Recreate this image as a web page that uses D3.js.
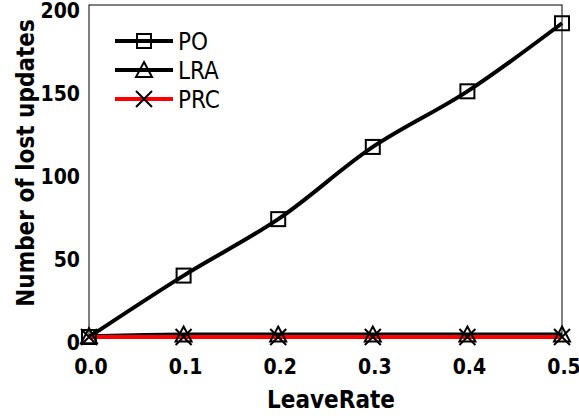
<!DOCTYPE html>
<html>
<head>
<meta charset="utf-8">
<script src="https://cdn.jsdelivr.net/npm/d3@7"></script>
<style>
  body { margin: 0; background: #fff; }
  svg { display: block; }
</style>
</head>
<body>
<div id="canvas"></div>
<script>
// data
const leaveRates = [0.0, 0.1, 0.2, 0.3, 0.4, 0.5];
const poValues = [0, 37, 71, 114.5, 148, 189];
const lraValues = [0.5, 1.5, 1.5, 1.5, 1.5, 1.5];
const prcValues = [0, 0, 0, 0, 0, 0];
const yTicks = [0, 50, 100, 150, 200];
const xTicks = [0.0, 0.1, 0.2, 0.3, 0.4, 0.5];

const series = [
  { name: "PO", values: poValues, color: "#000", marker: "square" },
  { name: "LRA", values: lraValues, color: "#000", marker: "triangle" },
  { name: "PRC", values: prcValues, color: "#f00", marker: "cross" }
];

const W = 579, H = 419;
const font = "'DejaVu Sans Condensed', 'DejaVu Sans', sans-serif";

const svg = d3.select("#canvas").append("svg")
  .attr("width", W).attr("height", H);

const x = d3.scaleLinear().domain([0, 0.5]).range([89, 562]);
const y = d3.scaleLinear().domain([0, 200]).range([337, 5]);

// frame
svg.append("rect")
  .attr("x", x(0)).attr("y", y(200))
  .attr("width", x(0.5) - x(0)).attr("height", y(0) - y(200))
  .attr("fill", "none").attr("stroke", "#000").attr("stroke-width", 1);

// tick labels
svg.append("g").selectAll("text")
  .data(yTicks).join("text")
  .attr("x", 80).attr("y", (d) => y(d) + 6)
  .attr("text-anchor", "end").attr("dominant-baseline", "central")
  .style("font-family", font).style("font-size", "21px").style("font-weight", "bold")
  .text((d) => d);

svg.append("g").selectAll("text")
  .data(xTicks).join("text")
  .attr("x", (d) => x(d) + 2).attr("y", 367)
  .attr("text-anchor", "middle").attr("dominant-baseline", "central")
  .style("font-family", font).style("font-size", "21px").style("font-weight", "bold")
  .text((d) => d.toFixed(1));

// axis titles
svg.append("text")
  .attr("x", 331).attr("y", 400)
  .attr("text-anchor", "middle").attr("dominant-baseline", "central")
  .style("font-family", font).style("font-size", "24px").style("font-weight", "bold")
  .text("LeaveRate");

svg.append("text")
  .attr("transform", "translate(26,163) rotate(-90)")
  .attr("text-anchor", "middle").attr("dominant-baseline", "central")
  .style("font-family", font).style("font-size", "24px").style("font-weight", "bold")
  .text("Number of lost updates");

function drawMarker(g, type, cx, cy) {
  if (type === "square") {
    g.append("rect")
      .attr("x", cx - 7).attr("y", cy - 7).attr("width", 14).attr("height", 14)
      .attr("fill", "none").attr("stroke", "#000").attr("stroke-width", 2);
  } else if (type === "triangle") {
    g.append("path")
      .attr("d", `M${cx},${cy - 8}L${cx + 8},${cy + 7}L${cx - 8},${cy + 7}Z`)
      .attr("fill", "none").attr("stroke", "#000").attr("stroke-width", 2);
  } else {
    g.append("path")
      .attr("d", `M${cx - 8},${cy - 8}L${cx + 8},${cy + 8}M${cx + 8},${cy - 8}L${cx - 8},${cy + 8}`)
      .attr("fill", "none").attr("stroke", "#000").attr("stroke-width", 2);
  }
}

const line = d3.line()
  .x((d, i) => x(leaveRates[i]))
  .y((d) => y(d))
  .curve(d3.curveCatmullRom);

series.forEach((s) => {
  svg.append("path")
    .datum(s.values)
    .attr("d", line)
    .attr("fill", "none").attr("stroke", s.color).attr("stroke-width", 4);
});

series.forEach((s) => {
  const g = svg.append("g");
  s.values.forEach((v, i) => drawMarker(g, s.marker, x(leaveRates[i]), y(v)));
});

// legend
const legend = svg.append("g");
series.forEach((s, i) => {
  const ly = 41 + i * 29;
  legend.append("line")
    .attr("x1", 115).attr("x2", 173).attr("y1", ly).attr("y2", ly)
    .attr("stroke", s.color).attr("stroke-width", 4);
  drawMarker(legend, s.marker, 144, ly);
  legend.append("text")
    .attr("x", 178).attr("y", ly + 1)
    .attr("dominant-baseline", "central")
    .style("font-family", font).style("font-size", "24px")
    .text(s.name);
});
</script>
</body>
</html>
